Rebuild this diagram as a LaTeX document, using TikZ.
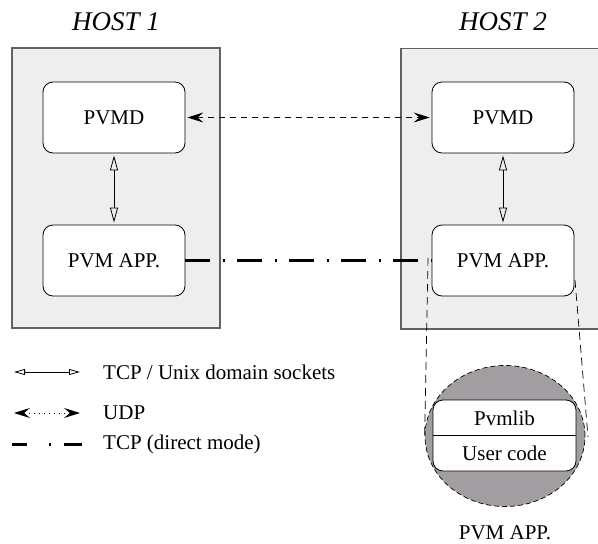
\documentclass[tikz,border=0pt]{standalone}
\usepackage{fontspec}
\setmainfont{Liberation Serif}
\usetikzlibrary{arrows.meta,shapes.geometric}

\definecolor{hostfill}{HTML}{EEEEEE}
\definecolor{hostline}{HTML}{606060}
\definecolor{lensfill}{HTML}{A19DA1}

\tikzset{
  hostbox/.style={draw=hostline, line width=1.2pt, fill=hostfill, inner sep=0pt},
  procbox/.style={draw, line width=0.8pt, fill=white, rounded corners=10pt,
    minimum width=142pt, minimum height=71pt, inner sep=0pt,
    font=\fontsize{21}{24}\selectfont},
  hosttitle/.style={font=\fontsize{27}{30}\selectfont\itshape},
  plain/.style={font=\fontsize{21}{24}\selectfont, inner sep=0pt},
  udptip/.style={},
  tcpsock/.style={line width=0.8pt,
    {Triangle[open,length=15pt,width=8pt]}-{Triangle[open,length=15pt,width=8pt]},
    shorten <=2pt, shorten >=2pt},
  udp/.style={line width=0.8pt, dash pattern=on 6pt off 5pt,
    {Stealth[length=16pt,width=10pt,inset=6pt]}-{Stealth[length=16pt,width=10pt,inset=6pt]},
    shorten <=2pt, shorten >=2pt},
  direct/.style={line width=3pt, dash pattern=on 25pt off 13pt on 2pt off 12pt},
  zoomline/.style={line width=0.7pt, dash pattern=on 8pt off 5pt}
}

\begin{document}
\begin{tikzpicture}[x=1pt,y=-1pt]
  \useasboundingbox (0,0) rectangle (598,544);
  \clip (0,0) rectangle (598,544);

  % hosts
  \node[hostbox, minimum width=208pt, minimum height=280pt] (host1) at (116,188) {};
  \node[hostbox, minimum width=210pt, minimum height=280.5pt] (host2) at (506,188.75) {};
  \node[hosttitle] (t1) at (116,22) {HOST 1};
  \node[hosttitle] (t2) at (503,22) {HOST 2};

  % daemons and applications
  \node[procbox] (pvmd1) at (114,117.5) {PVMD};
  \node[procbox] (app1)  at (114,260.5) {PVM APP.};
  \node[procbox] (pvmd2) at (503,117.5) {PVMD};
  \node[procbox] (app2)  at (503,260.5) {PVM APP.};

  % connections
  \draw[tcpsock] (pvmd1.south) -- (app1.north);
  \draw[tcpsock] (pvmd2.south) -- (app2.north);
  \draw[udp] (pvmd1.east) -- (pvmd2.west);
  \draw[direct] (app1.east) -- (app2.west);

  % magnified view of the application
  \node[ellipse, draw, line width=0.7pt, dash pattern=on 5pt off 3pt, fill=lensfill,
        minimum width=160pt, minimum height=141pt, inner sep=0pt] (lens) at (505,436) {};
  \coordinate (zl0) at (428,258);
  \coordinate (zr0) at (575,280);
  \coordinate (zr1) at (588,437);
  \draw[zoomline] (zl0) -- (lens.west);
  \draw[zoomline] (zr0) -- (zr1);
  \node[procbox, minimum width=143pt] (lib) at (504.5,435.5) {};
  \draw[line width=0.8pt] (lib.west) -- (lib.east);
  \node[plain] (pvmlib) at (504.5,418) {Pvmlib};
  \node[plain] (ucode) at (504.5,453.5) {User code};
  \node[plain] (lenslabel) at (505,533) {PVM APP.};

  % legend
  \coordinate (la0) at (14,372);  \coordinate (la1) at (80,372);
  \coordinate (lb0) at (14,413);  \coordinate (lb1) at (80,413);
  \coordinate (lc0) at (12,444);  \coordinate (lc1) at (82,444);
  \draw[line width=0.8pt,
    {Triangle[open,length=11pt,width=6pt]}-{Triangle[open,length=11pt,width=6pt]}]
    (la0) -- (la1);
  \draw[line width=0.8pt, dash pattern=on 1pt off 4pt,
    {Stealth[length=16pt,width=10pt,inset=6pt]}-{Stealth[length=16pt,width=10pt,inset=6pt]}]
    (lb0) -- (lb1);
  \draw[line width=3pt, dash pattern=on 15pt off 22pt on 2pt off 13pt on 20pt off 10pt]
    (lc0) -- (lc1);
  \node[plain, anchor=west] (leg1) at (103,372) {TCP / Unix domain sockets};
  \node[plain, anchor=west] (leg2) at (103,413) {UDP};
  \node[plain, anchor=west] (leg3) at (103,444) {TCP (direct mode)};
\end{tikzpicture}
\end{document}
